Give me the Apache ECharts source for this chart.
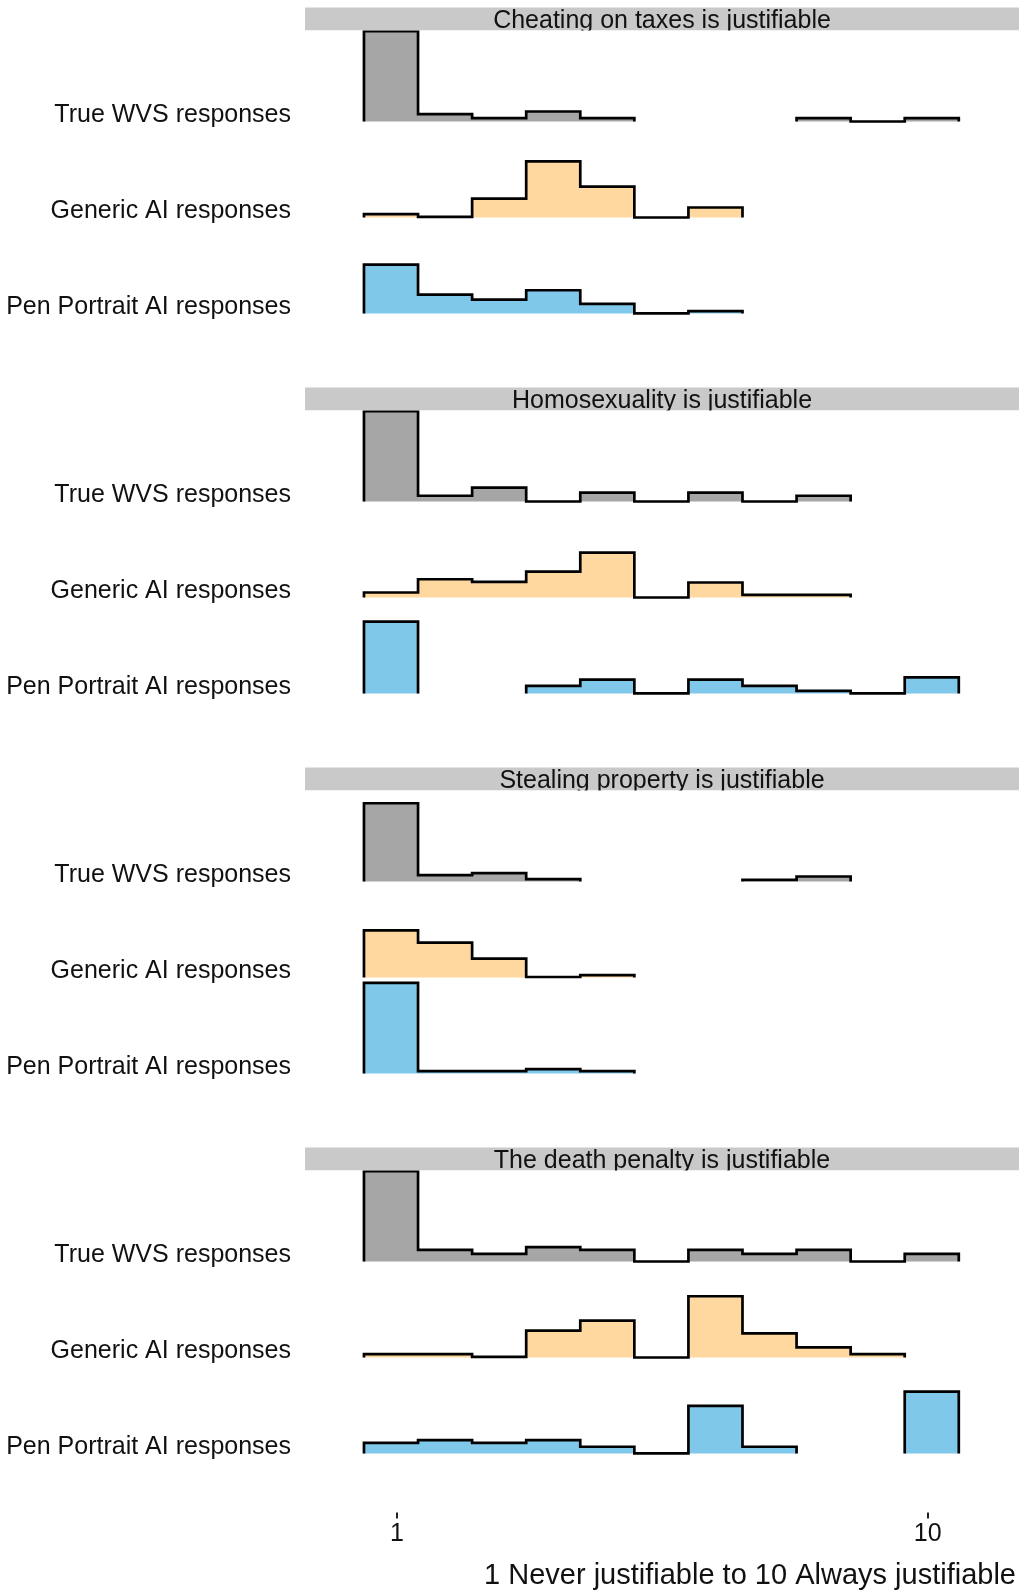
<!DOCTYPE html>
<html>
<head>
<meta charset="utf-8">
<script src="https://cdn.jsdelivr.net/npm/echarts@6/dist/echarts.min.js"></script>
<style>
html,body{margin:0;padding:0;background:#fff;}
#c{width:1021px;height:1594px;}
</style>
</head>
<body>
<div id="c"></div>
<script>
// ---------- data ----------
const facets = [
  'Cheating on taxes is justifiable',
  'Homosexuality is justifiable',
  'Stealing property is justifiable',
  'The death penalty is justifiable'
];
const rows = ['True WVS responses', 'Generic AI responses', 'Pen Portrait AI responses'];
const rowLevels = [2, 1, 0];
// histogram bin edges (11 bins) on the 1..10 response scale
const binEdges = [0.44, 1.357, 2.274, 3.191, 4.108, 5.025, 5.942, 6.859, 7.776, 8.693, 9.61, 10.527];
const xTicks = [1, 10];
const xTitle = '1 Never justifiable to 10 Always justifiable';

// ridge heights (relative to the spacing between ridges); null = not drawn
const cheatingWVS      = [0.94, 0.076, 0.035, 0.104, 0.035, null, null, null, 0.035, 0, 0.035];
const cheatingGeneric  = [0.035, 0.007, 0.197, 0.585, 0.322, 0, 0.104, null, null, null, null];
const cheatingPen      = [0.509, 0.197, 0.145, 0.242, 0.100, 0, 0.024, null, null, null, null];

const homoWVS          = [0.94, 0.06, 0.145, 0, 0.093, 0, 0.093, 0, 0.06, null, null];
const homoGeneric      = [0.052, 0.19, 0.163, 0.27, 0.467, 0, 0.156, 0.028, 0.028, null, null];
const homoPen          = [0.748, null, null, 0.08, 0.145, 0, 0.145, 0.08, 0.028, 0, 0.168];

const stealingWVS      = [0.815, 0.066, 0.087, 0.024, null, null, null, 0.017, 0.052, null, null];
const stealingGeneric  = [0.49, 0.363, 0.197, 0.005, 0.024, null, null, null, null, null, null];
const stealingPen      = [0.943, 0.025, 0.025, 0.045, 0.025, null, null, null, null, null, null];

const deathWVS         = [0.94, 0.122, 0.08, 0.15, 0.122, 0, 0.122, 0.08, 0.122, 0, 0.08];
const deathGeneric     = [0.035, 0.035, 0.007, 0.279, 0.383, 0, 0.638, 0.251, 0.105, 0.035, null];
const deathPen         = [0.11, 0.14, 0.11, 0.14, 0.07, 0, 0.495, 0.07, null, null, 0.645];

const heights = [
  [cheatingWVS, cheatingGeneric, cheatingPen],
  [homoWVS, homoGeneric, homoPen],
  [stealingWVS, stealingGeneric, stealingPen],
  [deathWVS, deathGeneric, deathPen]
];

// ---------- styles / layout ----------
const FONT = "'Liberation Sans', Arial, Helvetica, sans-serif";
const fills = ['#A6A6A6', '#FFD8A0', '#80C8EA'];
const stripColor = '#C9C9C9';
const PANEL_L = 305, PANEL_R = 1019;
const facetTop = i => 7.5 + 380 * i;
const STRIP_H = 23, PANEL_H = 342;
const X_MIN = -0.56, X_MAX = 11.548;
const Y_MIN = -0.615, Y_MAX = 2.948;

const chart = echarts.init(document.getElementById('c'), null, {renderer: 'canvas'});

function makeRender(f) {
  return function (params, api) {
    const r = params.dataIndex;
    const h = heights[f][r];
    const base = rowLevels[r];
    const children = [];
    let k = 0;
    while (k < h.length) {
      if (h[k] == null) { k++; continue; }
      const pts = [api.coord([binEdges[k], base])];
      while (k < h.length && h[k] != null) {
        pts.push(api.coord([binEdges[k], base + h[k]]));
        pts.push(api.coord([binEdges[k + 1], base + h[k]]));
        k++;
      }
      pts.push(api.coord([binEdges[k], base]));
      children.push({type: 'polygon', shape: {points: pts}, style: {fill: fills[r], stroke: null}});
      children.push({type: 'polyline', shape: {points: pts},
        style: {fill: null, stroke: '#000', lineWidth: 2.7, lineJoin: 'miter', lineCap: 'butt'}});
    }
    return {type: 'group', children};
  };
}

const grids = [], xAxes = [], yAxes = [], series = [], graphics = [];
facets.forEach((name, i) => {
  const T = facetTop(i);
  grids.push({left: PANEL_L, right: 1021 - PANEL_R, top: T + STRIP_H, height: PANEL_H,
    containLabel: false, outerBoundsMode: 'none'});
  const last = i === facets.length - 1;
  xAxes.push({
    type: 'value', gridIndex: i, min: X_MIN, max: X_MAX,
    show: true, position: 'bottom',
    axisLine: {show: false, onZero: false},
    splitLine: {show: false},
    axisTick: {show: last, customValues: xTicks, length: 6, lineStyle: {color: '#222', width: 2}},
    axisLabel: {show: last, customValues: xTicks, margin: 9, fontSize: 25, color: '#111', fontFamily: FONT,
      formatter: v => String(v)},
    name: last ? xTitle : '',
    nameLocation: 'middle', nameGap: 49,
    nameTextStyle: {fontSize: 29, color: '#111', fontFamily: FONT, verticalAlign: 'top',
      padding: [0, 0, 0, 176]}
  });
  yAxes.push({
    type: 'value', gridIndex: i, min: Y_MIN, max: Y_MAX,
    axisLine: {show: false, onZero: false}, axisTick: {show: false}, splitLine: {show: false},
    axisLabel: {
      customValues: rowLevels,
      formatter: v => rows[rowLevels.indexOf(Math.round(v))],
      fontSize: 25, color: '#111', fontFamily: FONT, margin: 14,
      verticalAlign: 'bottom', lineHeight: 12
    }
  });
  series.push({
    type: 'custom', xAxisIndex: i, yAxisIndex: i, clip: true, z: 2,
    renderItem: makeRender(i),
    encode: {x: 0, y: 1},
    data: rows.map((rn, r) => ({name: rn, value: [binEdges[0], rowLevels[r]]})),
    silent: true
  });
  graphics.push({type: 'rect', z: 0, shape: {x: PANEL_L, y: T, width: PANEL_R - PANEL_L, height: STRIP_H},
    style: {fill: stripColor}});
  graphics.push({type: 'text', z: 0, x: (PANEL_L + PANEL_R) / 2, y: T + 13.5,
    style: {text: name, fill: '#111', font: '25px ' + FONT, align: 'center', verticalAlign: 'middle'}});
  graphics.push({type: 'rect', z: 1, shape: {x: PANEL_L, y: T + STRIP_H, width: PANEL_R - PANEL_L, height: 8},
    style: {fill: '#fff'}});
});

chart.setOption({
  animation: false,
  backgroundColor: '#fff',
  grid: grids,
  xAxis: xAxes,
  yAxis: yAxes,
  series: series,
  graphic: {elements: graphics}
});
</script>
</body>
</html>
